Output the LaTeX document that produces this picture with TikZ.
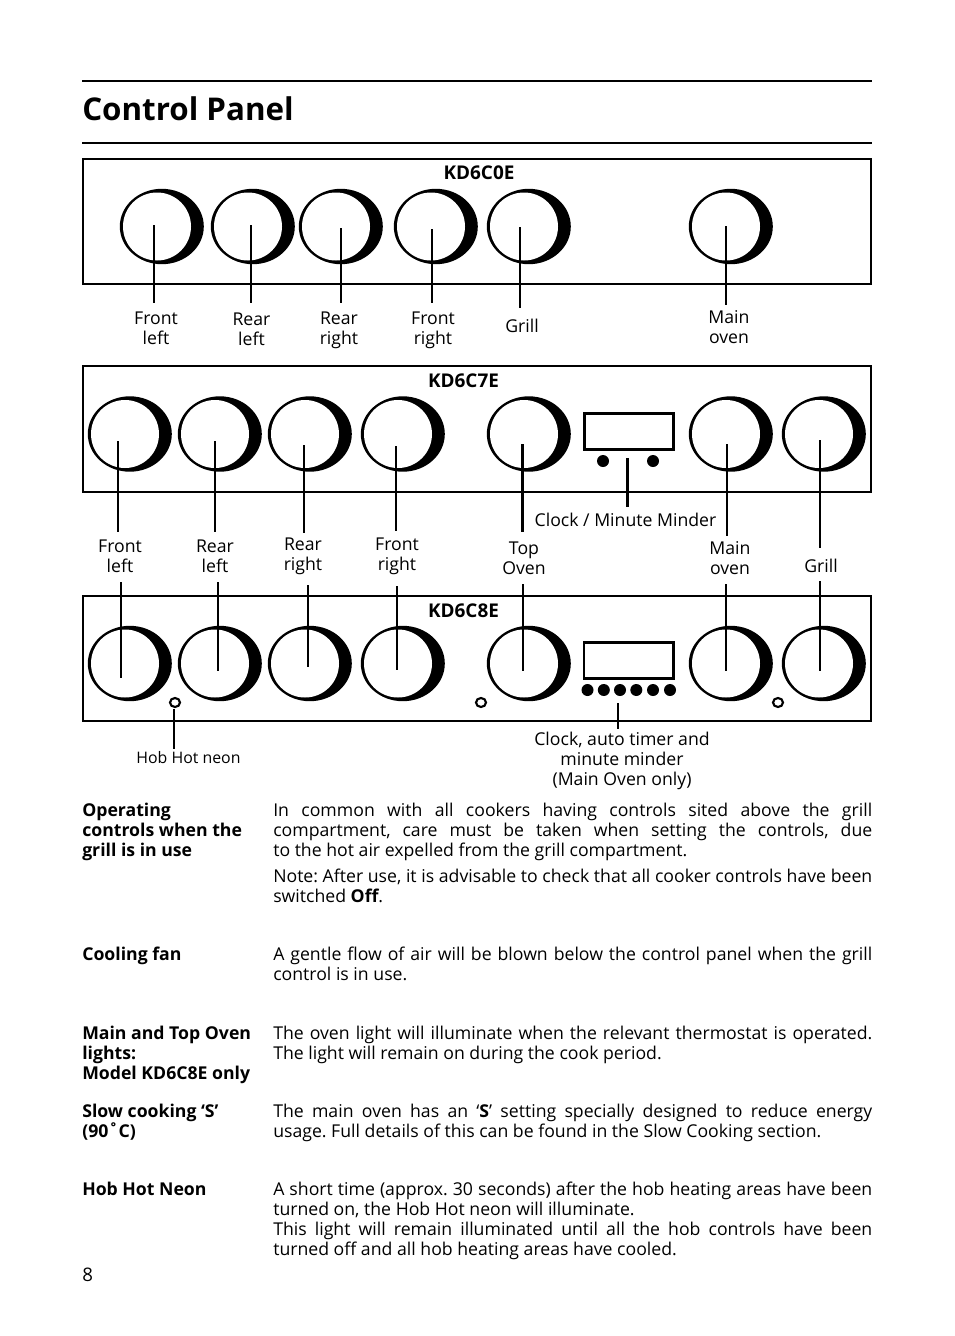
\documentclass[tikz,border=0pt]{standalone}
\usepackage{fontspec}
\setmainfont{Open Sans}
\newcommand{\bodyfont}{\fontsize{13.25}{15}\selectfont\frenchspacing}
\newcommand{\jl}[1]{\hbox to 449.25pt{\rule{0pt}{10.5pt}#1}}
\newcommand{\pl}[1]{\hbox{\rule{0pt}{10.5pt}#1}}
\tikzset{
  x=0.75pt,y=-0.75pt,
  rulel/.style={line width=1.6pt},
  frame/.style={line width=1.6pt,draw=black},
  lead/.style={line width=1.6pt},
  leadthick/.style={line width=2pt},
  lab/.style={inner sep=0pt,align=center,font=\bodyfont},
  model/.style={inner sep=0pt,font=\fontsize{14.2}{15}\selectfont\bfseries},
  para/.style={inner sep=0pt,anchor=north west,align=left,font=\bodyfont},
  side/.style={inner sep=0pt,anchor=north west,align=left,font=\bodyfont\bfseries},
}
% knob: left edge, centre y
\newcommand{\knob}[2]{%
  \fill[black] (#1+41.8,#2) ellipse [x radius=42,y radius=37.7];
  \fill[white] (#1+37,#2) ellipse [x radius=34,y radius=34];
}
% lead: name, x, y1, y2, style
\newcommand{\lead}[5]{%
  \coordinate (#1a) at (#2,#3);
  \coordinate (#1b) at (#2,#4);
  \draw[#5] (#1a) -- (#1b);
}
\begin{document}
\begin{tikzpicture}
\useasboundingbox (0,0) rectangle (954,1336);
\coordinate (r1a) at (82,81); \coordinate (r1b) at (872,81);
\coordinate (r2a) at (82,143); \coordinate (r2b) at (872,143);
\draw[rulel] (r1a) -- (r1b);
\draw[rulel] (r2a) -- (r2b);
\node[inner sep=0pt,anchor=base west,font=\fontsize{23.5}{28}\selectfont\bfseries] (title) at (82,120) {Control Panel};

% frames
\draw[frame] (83,159) rectangle (871,284);
\draw[frame] (83,366) rectangle (871,492);
\draw[frame] (83,596) rectangle (871,721);

% knobs
\foreach \k in {120,211,299,394,487,689} {\knob{\k}{226.5}}
\foreach \k in {88,178,268,361,487,689,782} {\knob{\k}{434}}
\foreach \k in {88,178,268,361,487,689,782} {\knob{\k}{663.5}}

% displays
\draw[frame] (584.5,413.5) rectangle (673.5,449.5);
\draw[frame] (584,642.5) rectangle (673.5,678.5);
\foreach \d in {603,653} {\fill (\d,461) circle [radius=6];}
\foreach \d in {587.5,603.8,620,636.3,653,670} {\fill (\d,690) circle [radius=6];}

% neons
\foreach \d in {175,481,778} {\draw[line width=1.6pt] (\d,702.5) ellipse [x radius=5,y radius=4.5];}

% leads row 1
\lead{a1}{154}{225}{303}{lead}
\lead{a2}{251}{225}{303}{lead}
\lead{a3}{341}{228}{303}{lead}
\lead{a4}{432}{229}{303}{lead}
\lead{a5}{520}{227}{308}{lead}
\lead{a6}{726}{226}{305}{lead}
% leads row 2
\lead{b1}{118}{441}{532}{lead}
\lead{b2}{215}{441}{532}{lead}
\lead{b3}{304}{445}{533}{leadthick}
\lead{b4}{396}{446}{531}{lead}
\lead{b5}{522.3}{444}{531.5}{leadthick}
\lead{b6}{627.3}{458}{507}{leadthick}
\lead{b7}{727}{444}{536}{lead}
\lead{b8}{820}{440}{548}{lead}
% leads row 3
\lead{c1}{121}{582}{678}{lead}
\lead{c2}{218}{582}{671}{lead}
\lead{c3}{308}{585}{667}{lead}
\lead{c4}{397}{586}{670}{lead}
\lead{c5}{523}{584}{671}{lead}
\lead{c6}{726}{584}{671}{lead}
\lead{c7}{820}{581}{671}{leadthick}
\lead{c8}{174}{709}{749}{leadthick}
\lead{c9}{618}{703}{729}{lead}

% model labels
\node[model] (m1) at (479,173) {KD6C0E};
\node[model] (m2) at (463.5,381) {KD6C7E};
\node[model] (m3) at (463.5,610.5) {KD6C8E};

% row 1 labels
\node[lab] (l1) at (156,328.5) {Front\\left};
\node[lab] (l2) at (251.5,329) {Rear\\left};
\node[lab] (l3) at (339,330.5) {Rear\\right};
\node[lab] (l4) at (433,330) {Front\\right};
\node[lab] (l5) at (522,325.5) {Grill};
\node[lab] (l6) at (729,327.5) {Main\\oven};
% row 2 labels
\node[lab] (l7) at (120,556.5) {Front\\left};
\node[lab] (l8) at (215,556) {Rear\\left};
\node[lab] (l9) at (303,556.5) {Rear\\right};
\node[lab] (l10) at (397,556.5) {Front\\right};
\node[lab] (l11) at (524,558.5) {Top\\Oven};
\node[lab] (l12) at (625.5,519.5) {Clock / Minute Minder};
\node[lab] (l13) at (730,558.5) {Main\\oven};
\node[lab] (l14) at (821,565.5) {Grill};
% row 3 labels
\node[inner sep=0pt,font=\fontsize{11.9}{15}\selectfont] (l15) at (188.5,758) {Hob Hot neon};
\node[lab] (l16) at (622,761) {Clock, auto timer and\\minute minder\\(Main Oven only)};

% side headings
\node[side] (s1) at (82,802) {\pl{Operating}\\\pl{controls when the}\\\pl{grill is in use}};
\node[side] (s2) at (82,946) {\pl{Cooling fan}};
\node[side] (s3) at (82,1025) {\pl{Main and Top Oven}\\\pl{lights:}\\\pl{Model KD6C8E only}};
\node[side] (s4) at (82,1103) {\pl{Slow cooking ‘S’}\\\pl{(90˚C)}};
\node[side] (s5) at (82,1181) {\pl{Hob Hot Neon}};

% body text
\node[para] (p1) at (273,802) {\jl{In common with all cookers having controls sited above the grill}\\\jl{compartment, care must be taken when setting the controls, due}\\\pl{to the hot air expelled from the grill compartment.}};
\node[para] (p2) at (273,868) {\jl{Note: After use, it is advisable to check that all cooker controls have been}\\\pl{switched \textbf{Off}.}};
\node[para] (p3) at (273,946) {\jl{A gentle flow of air will be blown below the control panel when the grill}\\\pl{control is in use.}};
\node[para] (p4) at (273,1025) {\jl{The oven light will illuminate when the relevant thermostat is operated.}\\\pl{The light will remain on during the cook period.}};
\node[para] (p5) at (273,1103) {\jl{The main oven has an ‘\textbf{S}’ setting specially designed to reduce energy}\\\pl{usage. Full details of this can be found in the Slow Cooking section.}};
\node[para] (p6) at (273,1181) {\jl{A short time (approx. 30 seconds) after the hob heating areas have been}\\\pl{turned on, the Hob Hot neon will illuminate.}\\\jl{This light will remain illuminated until all the hob controls have been}\\\pl{turned off and all hob heating areas have cooled.}};

\node[inner sep=0pt,anchor=base west,font=\fontsize{14}{15}\selectfont] (pg) at (82,1281) {8};
\end{tikzpicture}
\end{document}
